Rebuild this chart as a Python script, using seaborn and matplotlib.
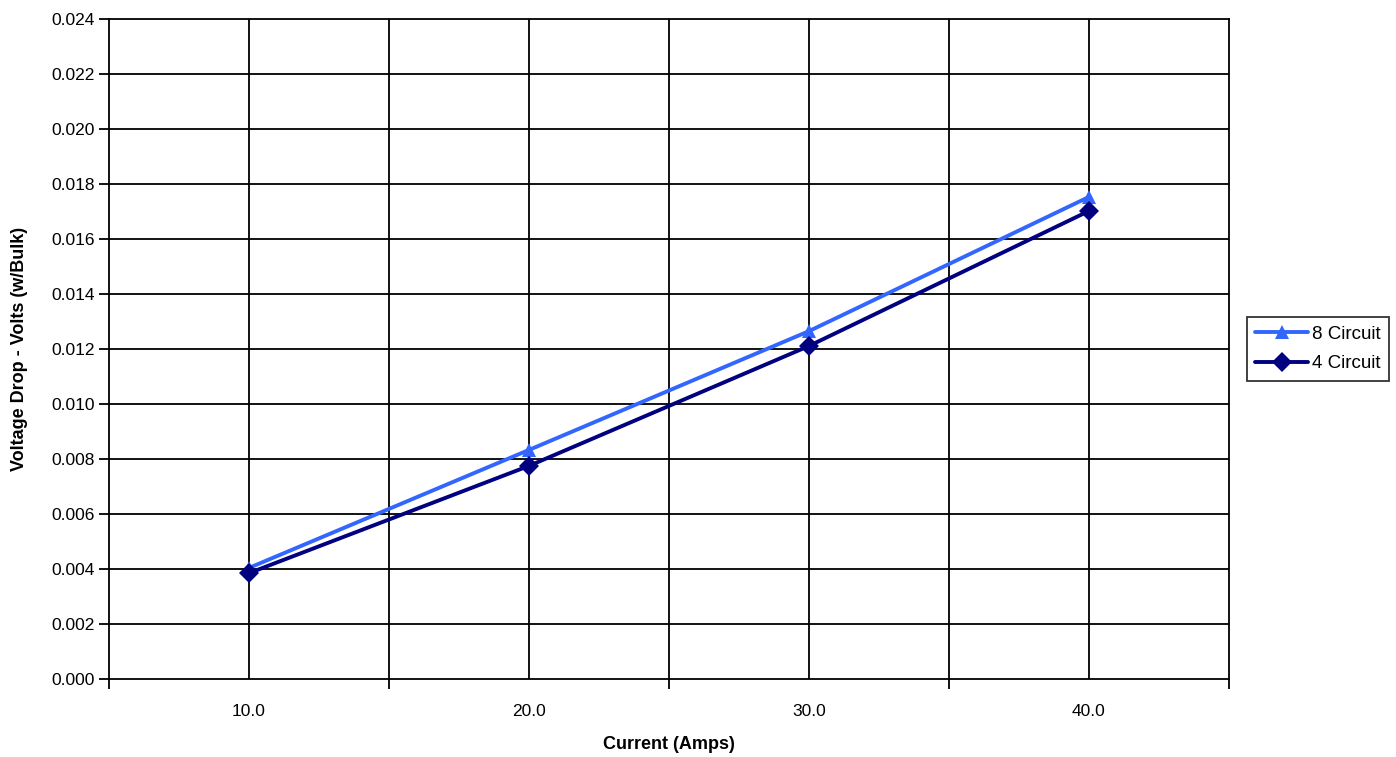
import numpy as np
import pandas as pd
import matplotlib
matplotlib.use("Agg")
import matplotlib.pyplot as plt
import seaborn as sns
from matplotlib.ticker import FixedLocator, NullFormatter

current = [10.0, 20.0, 30.0, 40.0]
drop_8 = [0.00404, 0.00833, 0.01265, 0.01753]
drop_4 = [0.00385, 0.00775, 0.01211, 0.01702]
series = ["8 Circuit", "4 Circuit"]

df = pd.DataFrame({
    "Current": current * 2,
    "Drop": drop_8 + drop_4,
    "Series": [series[0]] * 4 + [series[1]] * 4,
})

sns.set_style("white")
plt.rcParams["font.family"] = ["Liberation Sans", "DejaVu Sans"]
plt.rcParams["text.color"] = "black"
plt.rcParams["axes.labelcolor"] = "black"
plt.rcParams["xtick.color"] = "black"
plt.rcParams["ytick.color"] = "black"

fig = plt.figure(figsize=(13.96, 7.57), dpi=100)
ax = fig.add_axes([109 / 1396, 1 - 679 / 757, (1229 - 109) / 1396, (679 - 19) / 757])

pal = {"8 Circuit": "#3366FF", "4 Circuit": "#000080"}
sns.lineplot(data=df, x="Current", y="Drop", hue="Series", style="Series",
             markers={"8 Circuit": "^", "4 Circuit": "D"}, dashes=False,
             palette=pal, linewidth=2.8, markersize=10, markeredgewidth=0,
             ax=ax, legend=True, zorder=3)

ax.set_xlim(5, 45)
ax.set_ylim(0, 0.024)
ax.set_yticks(np.arange(0, 0.0241, 0.002))
ax.set_yticklabels([f"{v:.3f}" for v in np.arange(0, 0.0241, 0.002)], fontsize=12.5)

# category labels at 10..40, tick marks between categories
ax.set_xticks([10, 20, 30, 40])
ax.set_xticklabels(["10.0", "20.0", "30.0", "40.0"], fontsize=12.5)
ax.tick_params(axis="x", which="major", length=0, pad=18)
ax.xaxis.set_minor_locator(FixedLocator([5, 15, 25, 35, 45]))
ax.xaxis.set_minor_formatter(NullFormatter())
ax.tick_params(axis="x", which="minor", length=7, width=1.3, color="black", direction="out", bottom=True)
ax.tick_params(axis="y", length=7, width=1.3, color="black", direction="out", left=True, pad=3)

for gx in [10, 15, 20, 25, 30, 35, 40]:
    ax.axvline(gx, color="black", linewidth=1.3, zorder=1)
for gy in np.arange(0.002, 0.0239, 0.002):
    ax.axhline(gy, color="black", linewidth=1.3, zorder=1)

for s in ax.spines.values():
    s.set_color("black")
    s.set_linewidth(1.3)

ax.set_xlabel("Current (Amps)", fontsize=13, fontweight="bold")
ax.set_ylabel("Voltage Drop - Volts (w/Bulk)", fontsize=13, fontweight="bold")
ax.xaxis.set_label_coords(0.5, -57 / 660)
ax.yaxis.set_label_coords(-81 / 1120, 0.5)

leg = ax.legend(title=None, loc="center left", bbox_to_anchor=(1.016, 0.5),
                frameon=True, fancybox=False, fontsize=13.5, handlelength=2.8,
                borderpad=0.45, labelspacing=0.65, handletextpad=0.2, borderaxespad=0)
leg.get_frame().set_edgecolor("black")
leg.get_frame().set_linewidth(1.3)

fig.savefig("out.png", dpi=100)
